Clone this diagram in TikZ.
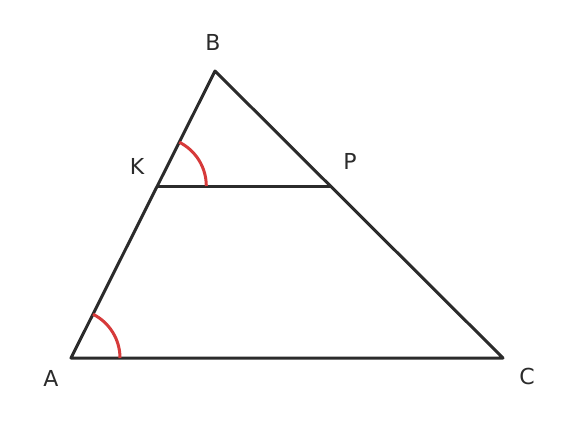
\documentclass[tikz,border=0pt]{standalone}
\usepackage{fontspec}
\setmainfont{DejaVu Sans}
\usepackage{xcolor}
\usepackage{tikz}
\usetikzlibrary{positioning,arrows.meta}

\definecolor{edgegray}{HTML}{2B2B2B}
\definecolor{anglered}{HTML}{D63A3A}

\begin{document}
\begin{tikzpicture}[x=1pt, y=-1pt,
    side/.style={edgegray, line width=3pt, line join=round, line cap=round},
    anglemark/.style={anglered, line width=3pt},
    vlabel/.style={font=\fontsize{22}{26}\selectfont, text=edgegray, inner sep=0pt}]
\useasboundingbox (0,0) rectangle (576,432);

\coordinate (vert_A) at (71,358);
\coordinate (vert_B) at (215,71);
\coordinate (vert_C) at (503,358);
\coordinate (vert_K) at (157.3,186);
\coordinate (vert_P) at (330.4,186);

\draw[side] (vert_A) -- (vert_B) -- (vert_C) -- cycle;
\draw[side] (vert_K) -- (vert_P);

\draw[anglemark] ([xshift=49pt]vert_A) arc[start angle=0, end angle=63.35, radius=49pt];
\draw[anglemark] ([xshift=49pt]vert_K) arc[start angle=0, end angle=63.35, radius=49pt];

\node[vlabel] (label_A) at (51,378) {A};
\node[vlabel] (label_B) at (213,42) {B};
\node[vlabel] (label_C) at (527,376) {C};
\node[vlabel] (label_K) at (137,166) {K};
\node[vlabel] (label_P) at (350,161) {P};

\end{tikzpicture}
\end{document}
